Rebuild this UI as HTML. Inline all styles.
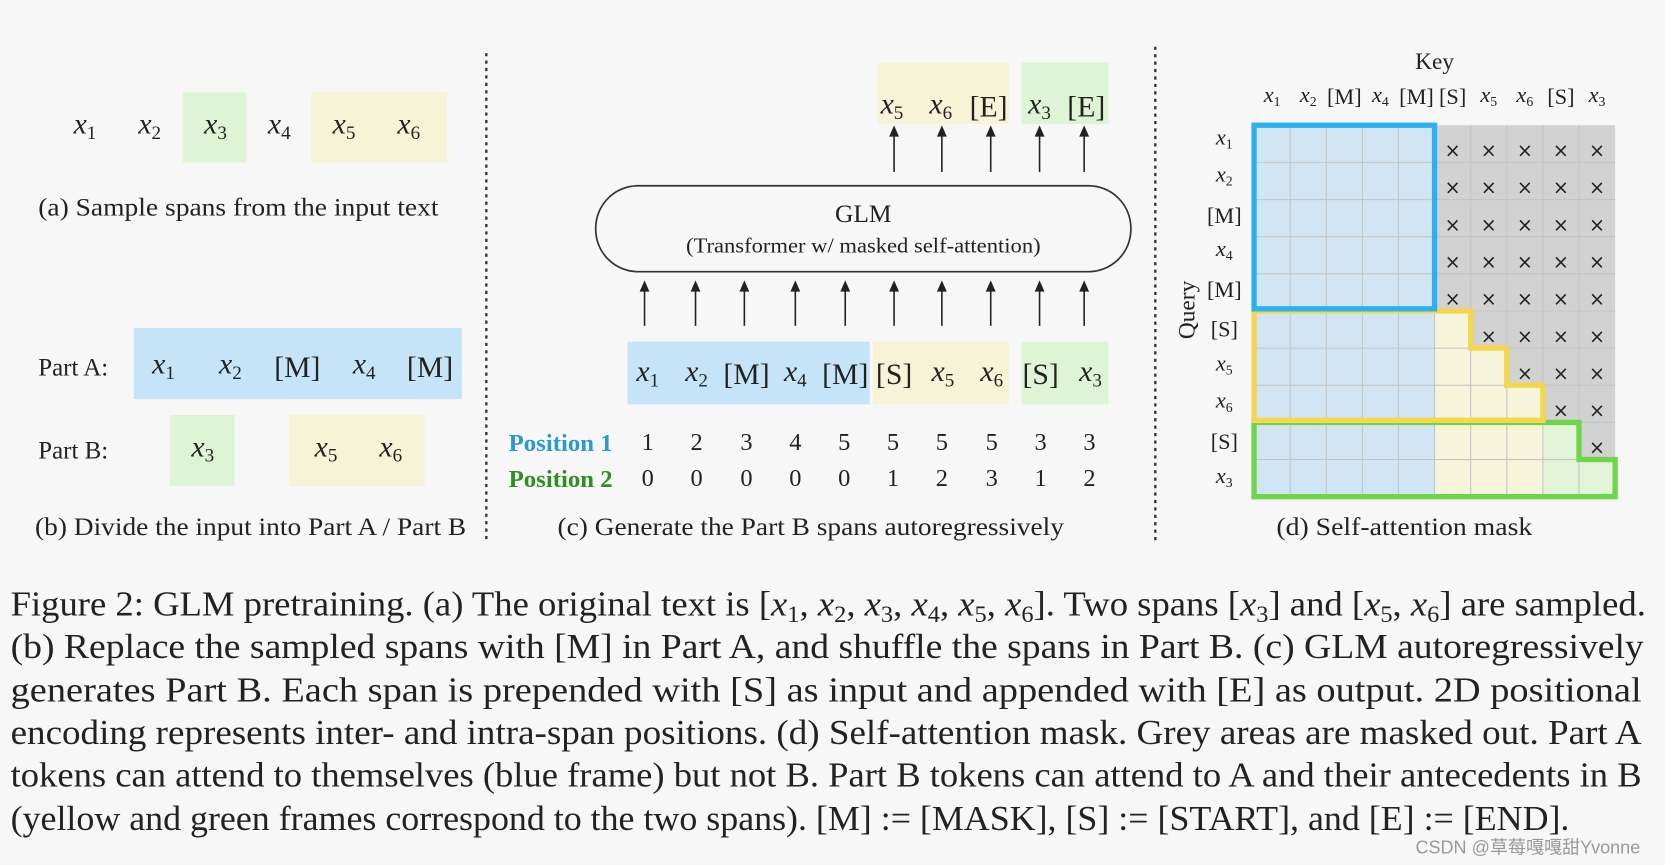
<!DOCTYPE html>
<html><head><meta charset="utf-8"><style>
html,body{margin:0;padding:0;background:#f7f7f7;}
svg{display:block;}
text{font-family:"Liberation Serif",serif;fill:#222;}
.m{font-size:28px;text-anchor:middle;}
.i{font-style:italic;}
.s{font-size:18px;}
.c{font-size:23.5px;}
.n{font-size:23px;text-anchor:middle;}
.x{font-size:18px;text-anchor:middle;font-family:"DejaVu Sans",sans-serif;}
.k{font-size:21px;text-anchor:middle;}
.cap{font-size:33px;}
.cs{font-size:22px;}
</style></head><body>
<svg width="1665" height="865" viewBox="0 0 1568 815" preserveAspectRatio="none" xmlns="http://www.w3.org/2000/svg">
<rect width="1568" height="815" fill="#f7f7f7"/>
<line x1="458" y1="50" x2="458" y2="512" stroke="#333" stroke-width="2.2" stroke-dasharray="3,4"/>
<line x1="1088" y1="44" x2="1088" y2="510" stroke="#333" stroke-width="2.2" stroke-dasharray="3,4"/>

<!-- (a) -->
<rect x="172" y="87" width="60" height="66" fill="#ddf5d5"/>
<rect x="293" y="87" width="128" height="66" fill="#f7f3d7"/>
<text class="m" x="80" y="126"><tspan class="i">x</tspan><tspan class="s" dy="5">1</tspan></text>
<text class="m" x="141" y="126"><tspan class="i">x</tspan><tspan class="s" dy="5">2</tspan></text>
<text class="m" x="203" y="126"><tspan class="i">x</tspan><tspan class="s" dy="5">3</tspan></text>
<text class="m" x="263" y="126"><tspan class="i">x</tspan><tspan class="s" dy="5">4</tspan></text>
<text class="m" x="324" y="126"><tspan class="i">x</tspan><tspan class="s" dy="5">5</tspan></text>
<text class="m" x="385" y="126"><tspan class="i">x</tspan><tspan class="s" dy="5">6</tspan></text>
<text class="c" x="36" y="203" textLength="377" lengthAdjust="spacingAndGlyphs">(a)  Sample spans from the input text</text>

<!-- (b) -->
<rect x="126" y="309" width="309" height="67" fill="#c6e4f7"/>
<rect x="160" y="391" width="61" height="67" fill="#ddf5d5"/>
<rect x="272" y="391" width="128" height="67" fill="#f7f3d7"/>
<text class="c" x="36" y="354">Part A:</text>
<text class="c" x="36" y="432">Part B:</text>
<text class="m" x="154" y="352"><tspan class="i">x</tspan><tspan class="s" dy="5">1</tspan></text>
<text class="m" x="217" y="352"><tspan class="i">x</tspan><tspan class="s" dy="5">2</tspan></text>
<text class="m" x="280" y="355">[M]</text>
<text class="m" x="343" y="352"><tspan class="i">x</tspan><tspan class="s" dy="5">4</tspan></text>
<text class="m" x="405" y="355">[M]</text>
<text class="m" x="191" y="430"><tspan class="i">x</tspan><tspan class="s" dy="5">3</tspan></text>
<text class="m" x="307" y="430"><tspan class="i">x</tspan><tspan class="s" dy="5">5</tspan></text>
<text class="m" x="368" y="430"><tspan class="i">x</tspan><tspan class="s" dy="5">6</tspan></text>
<text class="c" x="33" y="504" textLength="406" lengthAdjust="spacingAndGlyphs">(b)  Divide the input into Part A / Part B</text>

<!-- (c) -->
<rect x="826" y="59" width="124" height="58" fill="#f7f3d7"/>
<rect x="962" y="59" width="82" height="58" fill="#ddf5d5"/>
<text class="m" x="840" y="107"><tspan class="i">x</tspan><tspan class="s" dy="5">5</tspan></text>
<text class="m" x="886" y="107"><tspan class="i">x</tspan><tspan class="s" dy="5">6</tspan></text>
<text class="m" x="931" y="110">[E]</text>
<text class="m" x="979" y="107"><tspan class="i">x</tspan><tspan class="s" dy="5">3</tspan></text>
<text class="m" x="1023" y="110">[E]</text>
<g stroke="#222" stroke-width="1.5" fill="#222">
<line x1="842" y1="162" x2="842" y2="126"/><polygon points="838.5,128 845.5,128 842,120"/>
<line x1="887" y1="162" x2="887" y2="126"/><polygon points="883.5,128 890.5,128 887,120"/>
<line x1="933" y1="162" x2="933" y2="126"/><polygon points="929.5,128 936.5,128 933,120"/>
<line x1="979" y1="162" x2="979" y2="126"/><polygon points="975.5,128 982.5,128 979,120"/>
<line x1="1021" y1="162" x2="1021" y2="126"/><polygon points="1017.5,128 1024.5,128 1021,120"/>
<line x1="607" y1="307" x2="607" y2="272"/><polygon points="603.5,274 610.5,274 607,266"/>
<line x1="655" y1="307" x2="655" y2="272"/><polygon points="651.5,274 658.5,274 655,266"/>
<line x1="701" y1="307" x2="701" y2="272"/><polygon points="697.5,274 704.5,274 701,266"/>
<line x1="749" y1="307" x2="749" y2="272"/><polygon points="745.5,274 752.5,274 749,266"/>
<line x1="796" y1="307" x2="796" y2="272"/><polygon points="792.5,274 799.5,274 796,266"/>
<line x1="842" y1="307" x2="842" y2="272"/><polygon points="838.5,274 845.5,274 842,266"/>
<line x1="887" y1="307" x2="887" y2="272"/><polygon points="883.5,274 890.5,274 887,266"/>
<line x1="933" y1="307" x2="933" y2="272"/><polygon points="929.5,274 936.5,274 933,266"/>
<line x1="979" y1="307" x2="979" y2="272"/><polygon points="975.5,274 982.5,274 979,266"/>
<line x1="1021" y1="307" x2="1021" y2="272"/><polygon points="1017.5,274 1024.5,274 1021,266"/>
</g>
<rect x="561" y="175" width="504" height="81" rx="40" ry="40" fill="none" stroke="#333" stroke-width="1.6"/>
<text x="813" y="209" style="font-size:24px;text-anchor:middle">GLM</text>
<text x="813" y="238" style="font-size:20px;text-anchor:middle" textLength="334" lengthAdjust="spacingAndGlyphs">(Transformer w/ masked self-attention)</text>
<rect x="591" y="322" width="228" height="59" fill="#c6e4f7"/>
<rect x="822" y="322" width="128" height="59" fill="#f7f3d7"/>
<rect x="962" y="322" width="82" height="59" fill="#ddf5d5"/>
<text class="m" x="610" y="359"><tspan class="i">x</tspan><tspan class="s" dy="5">1</tspan></text>
<text class="m" x="656" y="359"><tspan class="i">x</tspan><tspan class="s" dy="5">2</tspan></text>
<text class="m" x="703" y="362">[M]</text>
<text class="m" x="749" y="359"><tspan class="i">x</tspan><tspan class="s" dy="5">4</tspan></text>
<text class="m" x="796" y="362">[M]</text>
<text class="m" x="842" y="362">[S]</text>
<text class="m" x="888" y="359"><tspan class="i">x</tspan><tspan class="s" dy="5">5</tspan></text>
<text class="m" x="934" y="359"><tspan class="i">x</tspan><tspan class="s" dy="5">6</tspan></text>
<text class="m" x="980" y="362">[S]</text>
<text class="m" x="1027" y="359"><tspan class="i">x</tspan><tspan class="s" dy="5">3</tspan></text>
<text x="479" y="425" style="font-size:23px;font-weight:bold;fill:#2b97d6" textLength="98" lengthAdjust="spacingAndGlyphs">Position 1</text>
<text x="479" y="459" style="font-size:23px;font-weight:bold;fill:#2e8f22" textLength="98" lengthAdjust="spacingAndGlyphs">Position 2</text>
<g>
<text class="n" x="610" y="424">1</text><text class="n" x="656" y="424">2</text><text class="n" x="703" y="424">3</text><text class="n" x="749" y="424">4</text><text class="n" x="795" y="424">5</text><text class="n" x="841" y="424">5</text><text class="n" x="887" y="424">5</text><text class="n" x="934" y="424">5</text><text class="n" x="980" y="424">3</text><text class="n" x="1026" y="424">3</text>
<text class="n" x="610" y="458">0</text><text class="n" x="656" y="458">0</text><text class="n" x="703" y="458">0</text><text class="n" x="749" y="458">0</text><text class="n" x="795" y="458">0</text><text class="n" x="841" y="458">1</text><text class="n" x="887" y="458">2</text><text class="n" x="934" y="458">3</text><text class="n" x="980" y="458">1</text><text class="n" x="1026" y="458">2</text>
</g>
<text class="c" x="525" y="504" textLength="477" lengthAdjust="spacingAndGlyphs">(c)  Generate the Part B spans autoregressively</text>

<!-- (d) -->
<text x="1351" y="65" style="font-size:22px;text-anchor:middle">Key</text>
<text x="1125" y="292" transform="rotate(-90 1125 292)" style="font-size:22px;text-anchor:middle">Query</text>
<g>
<text class="k" x="1198" y="96"><tspan class="i">x</tspan><tspan style="font-size:13px" dy="4">1</tspan></text>
<text class="k" x="1232" y="96"><tspan class="i">x</tspan><tspan style="font-size:13px" dy="4">2</tspan></text>
<text class="k" x="1266" y="98">[M]</text>
<text class="k" x="1300" y="96"><tspan class="i">x</tspan><tspan style="font-size:13px" dy="4">4</tspan></text>
<text class="k" x="1334" y="98">[M]</text>
<text class="k" x="1368" y="98">[S]</text>
<text class="k" x="1402" y="96"><tspan class="i">x</tspan><tspan style="font-size:13px" dy="4">5</tspan></text>
<text class="k" x="1436" y="96"><tspan class="i">x</tspan><tspan style="font-size:13px" dy="4">6</tspan></text>
<text class="k" x="1470" y="98">[S]</text>
<text class="k" x="1504" y="96"><tspan class="i">x</tspan><tspan style="font-size:13px" dy="4">3</tspan></text>
</g>
<g>
<text class="k" x="1153" y="136"><tspan class="i">x</tspan><tspan style="font-size:13px" dy="4">1</tspan></text>
<text class="k" x="1153" y="171"><tspan class="i">x</tspan><tspan style="font-size:13px" dy="4">2</tspan></text>
<text class="k" x="1153" y="210">[M]</text>
<text class="k" x="1153" y="241"><tspan class="i">x</tspan><tspan style="font-size:13px" dy="4">4</tspan></text>
<text class="k" x="1153" y="280">[M]</text>
<text class="k" x="1153" y="317">[S]</text>
<text class="k" x="1153" y="349"><tspan class="i">x</tspan><tspan style="font-size:13px" dy="4">5</tspan></text>
<text class="k" x="1153" y="384"><tspan class="i">x</tspan><tspan style="font-size:13px" dy="4">6</tspan></text>
<text class="k" x="1153" y="423">[S]</text>
<text class="k" x="1153" y="455"><tspan class="i">x</tspan><tspan style="font-size:13px" dy="4">3</tspan></text>
</g>
<rect x="1181" y="118" width="170" height="350" fill="#d1e5f5"/>
<polygon points="1351,118 1521,118 1521,433 1487,433 1487,398 1453,398 1453,363 1419,363 1419,328 1385,328 1385,293 1351,293" fill="#d2d2d2"/>
<polygon points="1351,293 1385,293 1385,328 1419,328 1419,363 1453,363 1453,468 1351,468" fill="#f6f4da"/>
<polygon points="1453,398 1487,398 1487,433 1521,433 1521,468 1453,468" fill="#e3f5d8"/>
<g stroke="#c4c4c4" stroke-width="1">
<line x1="1215" y1="118" x2="1215" y2="468"/><line x1="1249" y1="118" x2="1249" y2="468"/><line x1="1283" y1="118" x2="1283" y2="468"/><line x1="1317" y1="118" x2="1317" y2="468"/><line x1="1351" y1="118" x2="1351" y2="468"/><line x1="1385" y1="118" x2="1385" y2="468"/><line x1="1419" y1="118" x2="1419" y2="468"/><line x1="1453" y1="118" x2="1453" y2="468"/><line x1="1487" y1="118" x2="1487" y2="468"/>
<line x1="1181" y1="153" x2="1521" y2="153"/><line x1="1181" y1="188" x2="1521" y2="188"/><line x1="1181" y1="223" x2="1521" y2="223"/><line x1="1181" y1="258" x2="1521" y2="258"/><line x1="1181" y1="293" x2="1521" y2="293"/><line x1="1181" y1="328" x2="1521" y2="328"/><line x1="1181" y1="363" x2="1521" y2="363"/><line x1="1181" y1="398" x2="1521" y2="398"/><line x1="1181" y1="433" x2="1521" y2="433"/>
</g>
<g>
<text class="x" x="1368" y="148">×</text><text class="x" x="1402" y="148">×</text><text class="x" x="1436" y="148">×</text><text class="x" x="1470" y="148">×</text><text class="x" x="1504" y="148">×</text>
<text class="x" x="1368" y="183">×</text><text class="x" x="1402" y="183">×</text><text class="x" x="1436" y="183">×</text><text class="x" x="1470" y="183">×</text><text class="x" x="1504" y="183">×</text>
<text class="x" x="1368" y="218">×</text><text class="x" x="1402" y="218">×</text><text class="x" x="1436" y="218">×</text><text class="x" x="1470" y="218">×</text><text class="x" x="1504" y="218">×</text>
<text class="x" x="1368" y="253">×</text><text class="x" x="1402" y="253">×</text><text class="x" x="1436" y="253">×</text><text class="x" x="1470" y="253">×</text><text class="x" x="1504" y="253">×</text>
<text class="x" x="1368" y="288">×</text><text class="x" x="1402" y="288">×</text><text class="x" x="1436" y="288">×</text><text class="x" x="1470" y="288">×</text><text class="x" x="1504" y="288">×</text>
<text class="x" x="1402" y="323">×</text><text class="x" x="1436" y="323">×</text><text class="x" x="1470" y="323">×</text><text class="x" x="1504" y="323">×</text>
<text class="x" x="1436" y="358">×</text><text class="x" x="1470" y="358">×</text><text class="x" x="1504" y="358">×</text>
<text class="x" x="1470" y="393">×</text><text class="x" x="1504" y="393">×</text>
<text class="x" x="1504" y="428">×</text>
</g>
<polygon points="1181,398 1487,398 1487,433 1521,433 1521,468 1181,468" fill="none" stroke="#6fd64c" stroke-width="5"/>
<polygon points="1181,293 1385,293 1385,328 1419,328 1419,363 1453,363 1453,396 1181,396" fill="none" stroke="#f5d64c" stroke-width="5"/>
<rect x="1181" y="118" width="170" height="173" fill="none" stroke="#2bb0f2" stroke-width="5"/>
<text class="c" x="1202" y="504" textLength="241" lengthAdjust="spacingAndGlyphs">(d)  Self-attention mask</text>

<!-- caption -->
<text class="cap" x="10" y="580" textLength="1540" lengthAdjust="spacingAndGlyphs">Figure 2: GLM pretraining. (a) The original text is [<tspan class="i">x</tspan><tspan class="cs" dy="6">1</tspan><tspan dy="-6">, </tspan><tspan class="i">x</tspan><tspan class="cs" dy="6">2</tspan><tspan dy="-6">, </tspan><tspan class="i">x</tspan><tspan class="cs" dy="6">3</tspan><tspan dy="-6">, </tspan><tspan class="i">x</tspan><tspan class="cs" dy="6">4</tspan><tspan dy="-6">, </tspan><tspan class="i">x</tspan><tspan class="cs" dy="6">5</tspan><tspan dy="-6">, </tspan><tspan class="i">x</tspan><tspan class="cs" dy="6">6</tspan><tspan dy="-6">]. Two spans [</tspan><tspan class="i">x</tspan><tspan class="cs" dy="6">3</tspan><tspan dy="-6">] and [</tspan><tspan class="i">x</tspan><tspan class="cs" dy="6">5</tspan><tspan dy="-6">, </tspan><tspan class="i">x</tspan><tspan class="cs" dy="6">6</tspan><tspan dy="-6">] are sampled.</tspan></text>
<text class="cap" x="10" y="620" textLength="1538" lengthAdjust="spacingAndGlyphs">(b) Replace the sampled spans with [M] in Part A, and shuffle the spans in Part B. (c) GLM autoregressively</text>
<text class="cap" x="10" y="661" textLength="1536" lengthAdjust="spacingAndGlyphs">generates Part B. Each span is prepended with [S] as input and appended with [E] as output.  2D positional</text>
<text class="cap" x="10" y="701" textLength="1536" lengthAdjust="spacingAndGlyphs">encoding represents inter- and intra-span positions. (d) Self-attention mask. Grey areas are masked out. Part A</text>
<text class="cap" x="10" y="741" textLength="1536" lengthAdjust="spacingAndGlyphs">tokens can attend to themselves (blue frame) but not B. Part B tokens can attend to A and their antecedents in B</text>
<text class="cap" x="10" y="782" textLength="1468" lengthAdjust="spacingAndGlyphs">(yellow and green frames correspond to the two spans). [M] := [MASK], [S] := [START], and [E] := [END].</text>
<text x="1333" y="804" style='font-family:"Liberation Sans","Noto Sans CJK SC",sans-serif;font-size:17px;fill:#9a9a9a'>CSDN @草莓嘎嘎甜Yvonne</text>
</svg>
</body></html>
